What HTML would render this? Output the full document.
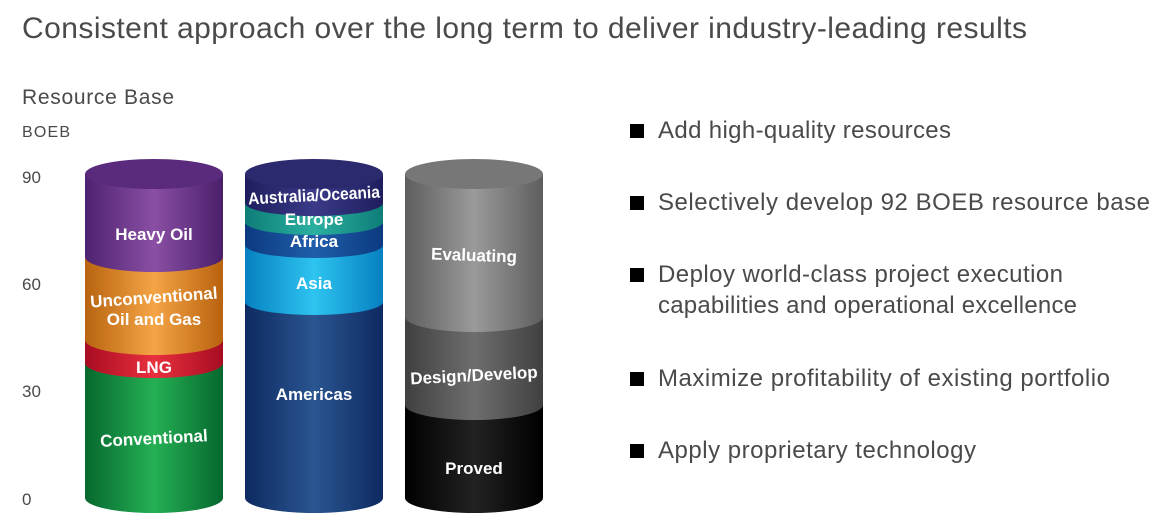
<!DOCTYPE html>
<html><head><meta charset="utf-8"><style>
html,body{margin:0;padding:0;background:#fff;}
svg{display:block;}
text{font-family:"Liberation Sans","DejaVu Sans",sans-serif;}
.w{fill:#fff;font-weight:bold;font-size:17px;text-anchor:middle;}
.g{fill:#4a4a4a;}
</style></head><body>
<svg width="1164" height="527" viewBox="0 0 1164 527" xmlns="http://www.w3.org/2000/svg">
<defs>
<linearGradient id="pu" x1="0" x2="1"><stop offset="0" stop-color="#4e2270"/><stop offset=".5" stop-color="#8a4fa4"/><stop offset="1" stop-color="#4a1f6a"/></linearGradient>
<linearGradient id="or" x1="0" x2="1"><stop offset="0" stop-color="#b86410"/><stop offset=".5" stop-color="#f5a445"/><stop offset="1" stop-color="#b8620e"/></linearGradient>
<linearGradient id="re" x1="0" x2="1"><stop offset="0" stop-color="#a80c22"/><stop offset=".5" stop-color="#e8303e"/><stop offset="1" stop-color="#a80c22"/></linearGradient>
<linearGradient id="gr" x1="0" x2="1"><stop offset="0" stop-color="#06682e"/><stop offset=".5" stop-color="#25b055"/><stop offset="1" stop-color="#06682e"/></linearGradient>
<linearGradient id="am" x1="0" x2="1"><stop offset="0" stop-color="#0e2a62"/><stop offset=".5" stop-color="#2a5590"/><stop offset="1" stop-color="#0e2a62"/></linearGradient>
<linearGradient id="as" x1="0" x2="1"><stop offset="0" stop-color="#0680c0"/><stop offset=".5" stop-color="#2ec4f0"/><stop offset="1" stop-color="#0680c0"/></linearGradient>
<linearGradient id="af" x1="0" x2="1"><stop offset="0" stop-color="#0c3a80"/><stop offset=".5" stop-color="#1f5eaa"/><stop offset="1" stop-color="#0c3a80"/></linearGradient>
<linearGradient id="eu" x1="0" x2="1"><stop offset="0" stop-color="#0e7e78"/><stop offset=".5" stop-color="#2ab0a0"/><stop offset="1" stop-color="#0e7e78"/></linearGradient>
<linearGradient id="au" x1="0" x2="1"><stop offset="0" stop-color="#1e1e5e"/><stop offset=".5" stop-color="#3a3a88"/><stop offset="1" stop-color="#1e1e5e"/></linearGradient>
<linearGradient id="ev" x1="0" x2="1"><stop offset="0" stop-color="#5e5e5e"/><stop offset=".5" stop-color="#9a9a9a"/><stop offset="1" stop-color="#5e5e5e"/></linearGradient>
<linearGradient id="dd" x1="0" x2="1"><stop offset="0" stop-color="#404040"/><stop offset=".5" stop-color="#6e6e6e"/><stop offset="1" stop-color="#404040"/></linearGradient>
<linearGradient id="pr" x1="0" x2="1"><stop offset="0" stop-color="#000"/><stop offset=".5" stop-color="#222"/><stop offset="1" stop-color="#000"/></linearGradient>
</defs>

<text x="22" y="38" font-size="30" class="g" textLength="1005">Consistent approach over the long term to deliver industry-leading results</text>
<text x="22" y="104" font-size="21" class="g" textLength="152">Resource Base</text>
<text x="22" y="137" font-size="16" class="g" textLength="48">BOEB</text>
<text x="22" y="183" font-size="17" class="g">90</text>
<text x="22" y="290" font-size="17" class="g">60</text>
<text x="22" y="397" font-size="17" class="g">30</text>
<text x="22" y="505" font-size="17" class="g">0</text>

<g>
<rect x="85" y="363" width="138" height="135" fill="url(#gr)"/><ellipse cx="154" cy="498" rx="69" ry="15" fill="url(#gr)"/>
<rect x="85" y="340" width="138" height="23" fill="url(#re)"/><ellipse cx="154" cy="363" rx="69" ry="15" fill="url(#re)"/>
<rect x="85" y="257" width="138" height="83" fill="url(#or)"/><ellipse cx="154" cy="340" rx="69" ry="15" fill="url(#or)"/>
<rect x="85" y="174" width="138" height="83" fill="url(#pu)"/><ellipse cx="154" cy="257" rx="69" ry="15" fill="url(#pu)"/>
<ellipse cx="154" cy="174" rx="69" ry="15" fill="#5a2a7c"/>
<text class="w" x="154" y="240">Heavy Oil</text>
<text class="w" x="154" y="303" transform="rotate(-4 154 300)">Unconventional</text>
<text class="w" x="154" y="325">Oil and Gas</text>
<text class="w" x="154" y="373">LNG</text>
<text class="w" x="154" y="444" transform="rotate(-3 154 440)">Conventional</text>
</g>

<g>
<rect x="245" y="302" width="138" height="196" fill="url(#am)"/><ellipse cx="314" cy="498" rx="69" ry="15" fill="url(#am)"/>
<rect x="245" y="245" width="138" height="57" fill="url(#as)"/><ellipse cx="314" cy="302" rx="69" ry="13" fill="url(#as)"/>
<rect x="245" y="222" width="138" height="23" fill="url(#af)"/><ellipse cx="314" cy="245" rx="69" ry="13" fill="url(#af)"/>
<rect x="245" y="203" width="138" height="19" fill="url(#eu)"/><ellipse cx="314" cy="222" rx="69" ry="13" fill="url(#eu)"/>
<rect x="245" y="174" width="138" height="29" fill="url(#au)"/><ellipse cx="314" cy="203" rx="69" ry="13" fill="url(#au)"/>
<ellipse cx="314" cy="174" rx="69" ry="15" fill="#2c2a6e"/>
<text class="w" x="314" y="201" font-size="14" textLength="132" lengthAdjust="spacingAndGlyphs" transform="rotate(-3 314 196)">Australia/Oceania</text>
<text class="w" x="314" y="225" font-size="16">Europe</text>
<text class="w" x="314" y="247">Africa</text>
<text class="w" x="314" y="289">Asia</text>
<text class="w" x="314" y="400">Americas</text>
</g>

<g>
<rect x="405" y="405" width="138" height="93" fill="url(#pr)"/><ellipse cx="474" cy="498" rx="69" ry="15" fill="url(#pr)"/>
<rect x="405" y="317" width="138" height="88" fill="url(#dd)"/><ellipse cx="474" cy="405" rx="69" ry="15" fill="url(#dd)"/>
<rect x="405" y="174" width="138" height="143" fill="url(#ev)"/><ellipse cx="474" cy="317" rx="69" ry="15" fill="url(#ev)"/>
<ellipse cx="474" cy="174" rx="69" ry="15" fill="#777"/>
<text class="w" x="474" y="261" transform="rotate(2 474 256)">Evaluating</text>
<text class="w" x="474" y="381" transform="rotate(-3 474 376)">Design/Develop</text>
<text class="w" x="474" y="474">Proved</text>
</g>

<g font-size="24" class="g">
<rect x="630" y="124" width="14" height="14" fill="#000"/>
<text x="658" y="138" textLength="293">Add high-quality resources</text>
<rect x="630" y="196" width="14" height="14" fill="#000"/>
<text x="658" y="210" textLength="492">Selectively develop 92 BOEB resource base</text>
<rect x="630" y="268" width="14" height="14" fill="#000"/>
<text x="658" y="282" textLength="405">Deploy world-class project execution</text>
<text x="658" y="313" textLength="419">capabilities and operational excellence</text>
<rect x="630" y="372" width="14" height="14" fill="#000"/>
<text x="658" y="386" textLength="452">Maximize profitability of existing portfolio</text>
<rect x="630" y="444" width="14" height="14" fill="#000"/>
<text x="658" y="458" textLength="318">Apply proprietary technology</text>
</g>
</svg>
</body></html>
